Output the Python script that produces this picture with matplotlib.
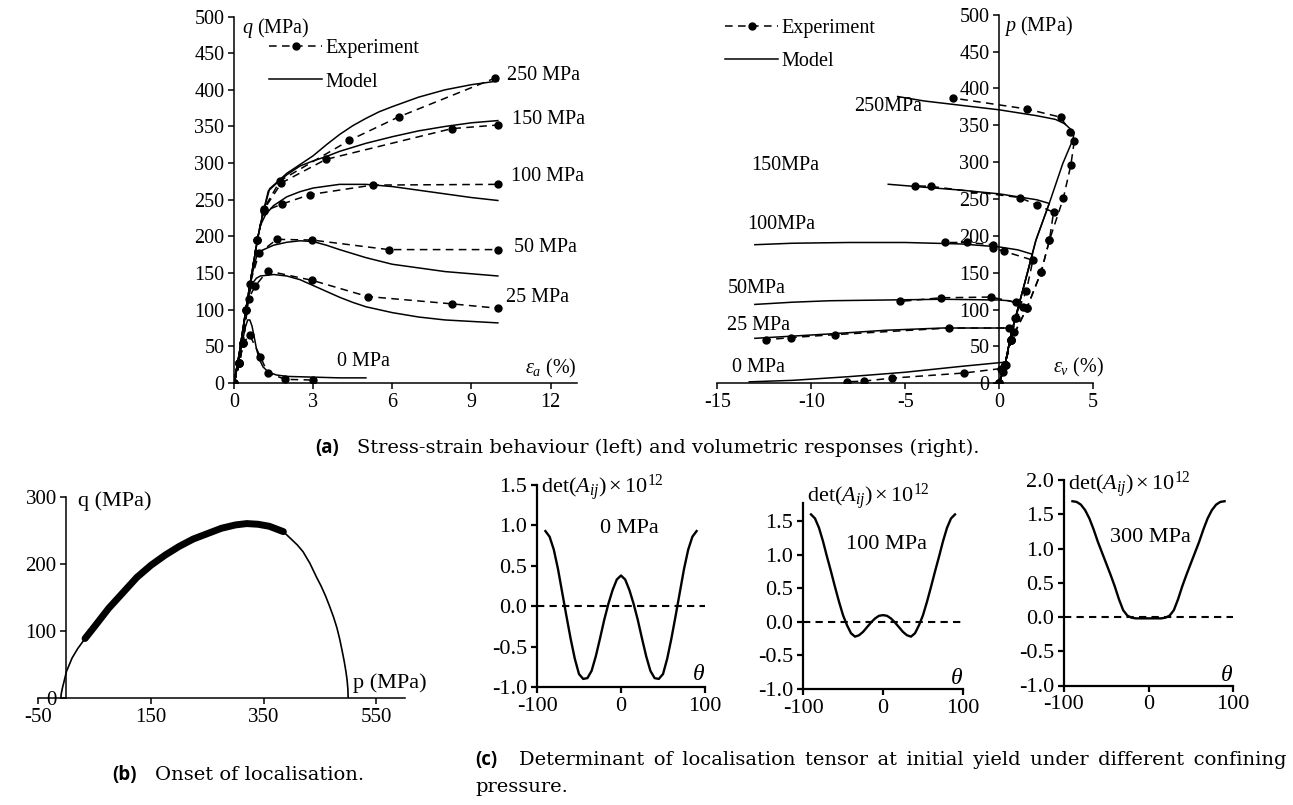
import matplotlib
matplotlib.use("Agg")
import matplotlib.pyplot as plt
from matplotlib.lines import Line2D

plt.rcParams['font.family'] = 'Liberation Serif'
plt.rcParams['mathtext.fontset'] = 'custom'
plt.rcParams['mathtext.rm'] = 'Liberation Serif'
plt.rcParams['mathtext.it'] = 'Liberation Serif:italic'
plt.rcParams['axes.unicode_minus'] = False

W, H = 1293, 805

# ---- (a) left: deviatoric stress vs axial strain ----
ea_exp = {
    '0': [0, 0.2, 0.35, 0.6, 1.0, 1.27, 1.94, 3.0],
    '25': [0, 0.2, 0.35, 0.55, 0.8, 1.27, 2.97, 5.06, 8.25, 10.0],
    '50': [0, 0.2, 0.35, 0.6, 0.95, 1.62, 2.97, 5.86, 10.0],
    '100': [0, 0.2, 0.45, 0.88, 1.12, 1.81, 2.87, 5.25, 10.0],
    '150': [0, 0.2, 0.45, 0.88, 1.12, 1.8, 3.48, 8.25, 10.0],
    '250': [0, 0.2, 0.45, 0.88, 1.12, 1.75, 4.37, 6.24, 9.9],
}
q_exp = {
    '0': [0, 27, 55, 65, 36, 14, 5, 4],
    '25': [0, 27, 55, 115, 132, 153, 140, 118, 108, 102],
    '50': [0, 27, 55, 135, 177, 196, 195, 182, 182],
    '100': [0, 27, 100, 195, 234, 244, 257, 270, 271],
    '150': [0, 27, 100, 195, 236, 273, 305, 347, 352],
    '250': [0, 27, 100, 195, 237, 276, 331, 363, 416],
}
ea_mod = {
    '0': [0, 0.15, 0.3, 0.42, 0.52, 0.6, 0.68, 0.76, 0.85, 0.95, 1.1, 1.3, 1.6, 2.0, 3.0, 4.0, 5.0],
    '25': [0, 0.2, 0.4, 0.55, 0.7, 0.85, 1.0, 1.5, 2.0, 2.5, 3.0, 3.5, 4.0, 4.5, 5.0, 6.0, 7.0, 8.0, 9.0, 10.0],
    '50': [0, 0.2, 0.45, 0.7, 0.85, 1.0, 1.5, 2.0, 2.5, 3.0, 3.5, 4.0, 5.0, 6.0, 7.0, 8.0, 9.0, 10.0],
    '100': [0, 0.2, 0.45, 0.7, 0.9, 1.0, 1.2, 1.5, 2.0, 2.5, 3.0, 4.0, 5.0, 6.0, 7.0, 8.0, 9.0, 10.0],
    '150': [0, 0.2, 0.45, 0.7, 0.9, 1.1, 1.3, 1.6, 2.0, 2.5, 3.0, 3.5, 4.0, 5.0, 6.0, 7.0, 8.0, 9.0, 10.0],
    '250': [0, 0.2, 0.45, 0.7, 0.9, 1.1, 1.35, 1.6, 2.0, 2.5, 3.0, 3.5, 4.0, 4.5, 5.0, 5.5, 6.0, 7.0, 8.0, 9.0, 10.0],
}
q_mod = {
    '0': [0, 25, 52, 75, 86, 86, 78, 64, 47, 33, 22, 15, 11, 9, 8, 7, 7],
    '25': [0, 40, 85, 118, 136, 143, 146, 148, 146, 141, 133, 125, 117, 110, 104, 96, 90, 86, 84, 82],
    '50': [0, 40, 100, 150, 172, 180, 188, 192, 194, 193, 188, 182, 171, 162, 157, 152, 149, 146],
    '100': [0, 40, 100, 155, 198, 215, 230, 242, 254, 261, 266, 271, 271, 268, 263, 258, 253, 249],
    '150': [0, 40, 100, 155, 198, 232, 262, 272, 284, 296, 303, 309, 316, 327, 336, 344, 350, 355, 358],
    '250': [0, 40, 100, 155, 198, 232, 265, 273, 286, 298, 310, 325, 339, 351, 361, 370, 377, 390, 400, 407, 412],
}
q_labels = ['250 MPa', '150 MPa', '100 MPa', '50 MPa', '25 MPa']
q_label_pos = [(10.35, 420), (10.55, 359), (10.5, 282), (10.6, 185), (10.3, 117)]

# ---- (a) right: mean stress vs volumetric strain ----
ev_exp = {
    '0': [0, 0.2, 0.35, 0.1, -1.85, -5.7, -7.2, -8.1],
    '25': [0, 0.3, 0.65, 0.8, 0.55, -2.65, -8.75, -11.1, -12.4],
    '50': [0, 0.3, 0.65, 0.88, 1.3, 0.88, -0.45, -3.1, -5.3],
    '100': [0, 0.3, 0.65, 0.83, 1.45, 1.8, 0.27, -0.3, -0.35, -1.7, -2.9],
    '150': [0, 0.3, 0.65, 1.48, 2.24, 2.68, 2.9, 2.0, 1.1, -3.6, -4.5],
    '250': [0, 0.3, 0.65, 1.48, 2.24, 2.68, 3.42, 3.82, 4.0, 3.8, 3.27, 1.5, -2.47],
}
p_exp = {
    '0': [0, 15, 25, 20, 14, 7, 3, 2],
    '25': [0, 25, 59, 70, 75, 75, 66, 62, 59],
    '50': [0, 25, 59, 88, 103, 110, 117, 116, 111],
    '100': [0, 25, 59, 88, 125, 167, 179, 184, 188, 191, 191],
    '150': [0, 25, 59, 102, 151, 194, 232, 242, 252, 267, 268],
    '250': [0, 25, 59, 102, 151, 194, 251, 296, 328, 341, 361, 372, 387],
}
ev_mod = {
    '0': [0, 0.3, 0.44, -2, -5, -8, -11, -13.3],
    '25': [0, 0.3, 0.65, 0.75, 0, -3, -6, -9, -11, -13],
    '50': [0, 0.3, 0.65, 1.1, 0.5, 0, -3, -6, -9, -11, -13],
    '100': [0, 0.3, 0.65, 1.27, 1.78, 1.0, 0, -2, -5, -8, -11, -13],
    '150': [0, 0.3, 0.65, 1.27, 1.96, 2.67, 2.0, 1.0, 0, -2, -4, -5.9],
    '250': [0, 0.3, 0.65, 1.27, 1.96, 2.67, 3.39, 3.92, 4.0, 3.5, 3.0, 2.0, 1.0, 0, -2, -4, -5.4],
}
p_mod = {
    '0': [0, 23, 29, 23, 15, 9, 4, 2],
    '25': [0, 23, 68, 75, 75, 75, 72, 67, 64, 61],
    '50': [0, 23, 68, 108, 112, 113, 114, 113, 112, 110, 107],
    '100': [0, 23, 68, 127, 175, 181, 185, 189, 191, 191, 190, 188],
    '150': [0, 23, 68, 127, 194, 244, 249, 253, 257, 262, 266, 270],
    '250': [0, 23, 68, 127, 194, 244, 298, 330, 340, 352, 358, 363, 367, 371, 377, 383, 389],
}
p_labels = ['250MPa', '150MPa', '100MPa', '50MPa', '25 MPa', '0 MPa']
p_label_pos = [(-5.9, 375), (-11.4, 296), (-11.6, 216), (-12.9, 129), (-12.8, 79), (-12.8, 21)]

# ---- (b) yield surface with localisation zone ----
p_yield = [-10, -9.5, -9, -7, -4, 0, 10, 20, 33, 50, 75, 100, 125, 150, 175, 200, 225, 250, 275,
           300, 320, 340, 360, 385, 400, 410, 420, 432, 444, 452, 460, 467, 474, 480, 485, 489,
           493, 496, 498, 499.5, 500]
q_yield = [0, 5, 8, 16, 26, 40, 60, 74, 89, 107, 134, 157, 180, 198, 213, 226, 237, 245, 253,
           258, 260, 259, 256, 248, 236, 228, 218, 201, 180, 167, 152, 137, 121, 105, 88, 72,
           55, 40, 28, 14, 0]
p_loc = (33, 385)

# ---- (c) determinant of localisation tensor ----
theta = list(range(-90, 91, 5))
det_0 = [0.93, 0.86, 0.70, 0.46, 0.17, -0.12, -0.40, -0.65, -0.84, -0.90, -0.89, -0.80, -0.62,
         -0.40, -0.17, 0.03, 0.20, 0.33, 0.38, 0.33, 0.20, 0.03, -0.17, -0.40, -0.62, -0.80,
         -0.89, -0.90, -0.84, -0.65, -0.40, -0.12, 0.17, 0.46, 0.70, 0.86, 0.93]
det_100 = [1.60, 1.54, 1.40, 1.20, 0.97, 0.75, 0.52, 0.30, 0.10, -0.05, -0.17, -0.22, -0.20,
           -0.15, -0.08, -0.01, 0.05, 0.09, 0.10, 0.09, 0.05, -0.01, -0.08, -0.15, -0.20, -0.22,
           -0.17, -0.05, 0.10, 0.30, 0.52, 0.75, 0.97, 1.20, 1.40, 1.54, 1.60]
det_300 = [1.69, 1.68, 1.64, 1.56, 1.44, 1.28, 1.10, 0.94, 0.78, 0.62, 0.45, 0.26, 0.10, 0.02,
           -0.01, -0.02, -0.02, -0.02, -0.02, -0.02, -0.02, -0.02, -0.01, 0.02, 0.10, 0.26,
           0.45, 0.62, 0.78, 0.94, 1.10, 1.28, 1.44, 1.56, 1.64, 1.68, 1.69]


def add_axes_px(fig, left, right, bottom, top):
    return fig.add_axes([left / W, 1 - bottom / H, (right - left) / W, (bottom - top) / H])


def style_axes(ax, fs, lw=1.1):
    for s in ['top', 'right']:
        ax.spines[s].set_visible(False)
    for s in ['left', 'bottom']:
        ax.spines[s].set_linewidth(lw)
    ax.tick_params(direction='out', length=4, width=lw, labelsize=fs, pad=3)
    ax.patch.set_alpha(0)


fig = plt.figure(figsize=(W / 100, H / 100), dpi=100)

dash = (0, (5, 3.5))

# left panel of (a)
ax1 = add_axes_px(fig, 234, 577, 383, 16.5)
for k in ea_mod:
    ax1.plot(ea_mod[k], q_mod[k], color='black', lw=1.1)
for k in ea_exp:
    ax1.plot(ea_exp[k], q_exp[k], color='black', lw=1.1, ls=dash, marker='o', ms=5)
ax1.set_xlim(0, 13)
ax1.set_ylim(0, 500)
ax1.set_xticks([0, 3, 6, 9, 12])
ax1.set_yticks(range(0, 501, 50))
style_axes(ax1, 14.5)
for lab, (x, y) in zip(q_labels, q_label_pos):
    ax1.text(x, y, lab, fontsize=14.5, va='center', ha='left')
ax1.text(4.9, 29, '0 MPa', fontsize=14.5, ha='center', va='center')
ax1.text(0.3, 484, '$q$ (MPa)', fontsize=14.5, ha='left', va='center')
ax1.text(13.0, 20, r'$\varepsilon_a$ (%)', fontsize=14.5, ha='right', va='center')

h_exp = Line2D([], [], color='black', lw=1.1, ls=dash, marker='o', ms=5)
h_mod = Line2D([], [], color='black', lw=1.1)
ax1.legend([h_exp, h_mod], ['Experiment', 'Model'], loc='upper left', bbox_to_anchor=(0.08, 0.96),
           frameon=False, fontsize=14.5, handlelength=2.6, handletextpad=0.2, labelspacing=0.7,
           numpoints=1, borderaxespad=0)

# right panel of (a)
ax2 = add_axes_px(fig, 717.3, 1093, 383.3, 14.7)
for k in ev_mod:
    ax2.plot(ev_mod[k], p_mod[k], color='black', lw=1.1)
for k in ev_exp:
    ax2.plot(ev_exp[k], p_exp[k], color='black', lw=1.1, ls=dash, marker='o', ms=5)
ax2.set_xlim(-15, 5)
ax2.set_ylim(0, 500)
ax2.set_xticks([-15, -10, -5, 0, 5])
ax2.set_yticks(range(0, 501, 50))
ax2.spines['left'].set_position(('data', 0))
style_axes(ax2, 14.5)
for lab, (x, y) in zip(p_labels, p_label_pos):
    ax2.text(x, y, lab, fontsize=14.5, ha='center', va='center')
ax2.text(0.25, 484, '$p$ (MPa)', fontsize=14.5, ha='left', va='center')
ax2.text(5.6, 22, r'$\varepsilon_v$ (%)', fontsize=14.5, ha='right', va='center')
ax2.legend([h_exp, h_mod], ['Experiment', 'Model'], loc='upper left', bbox_to_anchor=(0.0, 1.01),
           frameon=False, fontsize=14.5, handlelength=2.6, handletextpad=0.2, labelspacing=0.7,
           numpoints=1, borderaxespad=0)

# (b) onset of localisation
axb = add_axes_px(fig, 38.3, 404.5, 698.3, 496.7)
axb.plot(p_yield, q_yield, color='black', lw=1.2)
p_thick = [p for p in p_yield if p_loc[0] <= p <= p_loc[1]]
q_thick = [q for p, q in zip(p_yield, q_yield) if p_loc[0] <= p <= p_loc[1]]
axb.plot(p_thick, q_thick, color='black', lw=5, solid_capstyle='round', solid_joinstyle='round')
axb.set_xlim(-50, 600)
axb.set_ylim(0, 300)
axb.set_xticks([-50, 150, 350, 550])
axb.set_yticks([0, 100, 200, 300])
axb.spines['left'].set_position(('data', 0))
style_axes(axb, 15)
axb.text(20, 293, 'q (MPa)', fontsize=16, ha='left', va='center')
axb.text(509, 23, 'p (MPa)', fontsize=16, ha='left', va='center')

# (c) determinant panels
c_specs = [
    (537, 705, 687, 485, (-1.0, 1.5), det_0, '0 MPa', (10, 0.96), 1.47),
    (803, 963, 689, 503, (-1.0, 1.77), det_100, '100 MPa', (5, 1.15), 1.86),
    (1064, 1233, 685.5, 480, (-1.0, 2.0), det_300, '300 MPa', (2, 1.16), 1.93),
]
for left, right, bottom, top, ylim, det, lab, lpos, ydet in c_specs:
    axc = add_axes_px(fig, left, right, bottom, top)
    axc.plot(theta, det, color='black', lw=1.7, solid_joinstyle='round')
    axc.plot([-100, 100], [0, 0], color='black', lw=1.5, ls=(0, (3.5, 2.5)))
    axc.set_xlim(-100, 100)
    axc.set_ylim(*ylim)
    axc.set_xticks([-100, 0, 100])
    axc.set_yticks([-1.0, -0.5, 0.0, 0.5, 1.0, 1.5] + ([2.0] if ylim[1] >= 2 else []))
    axc.yaxis.set_major_formatter(matplotlib.ticker.FormatStrFormatter('%.1f'))
    style_axes(axc, 16, lw=1.6)
    axc.text(lpos[0], lpos[1], lab, fontsize=16, ha='center', va='center')
    axc.text(-95, ydet, r'$\mathrm{det}(A_{ij})\times10^{12}$', fontsize=16, ha='left', va='center')
    axc.text(100, -0.85, r'$\theta$', fontsize=17, ha='right', va='center')

# captions
cap_fs = 14
fig.text(315 / W, 1 - 448 / H, '(a)', fontsize=13.5, family='Open Sans', weight='bold', va='center')
fig.text(357 / W, 1 - 448 / H, 'Stress-strain behaviour (left) and volumetric responses (right).',
         fontsize=cap_fs, family='DejaVu Serif', va='center')
fig.text(112 / W, 1 - 775 / H, '(b)', fontsize=13.5, family='Open Sans', weight='bold', va='center')
fig.text(155 / W, 1 - 775 / H, 'Onset of localisation.', fontsize=cap_fs, family='DejaVu Serif', va='center')
fig.text(475 / W, 1 - 760 / H, '(c)', fontsize=13.5, family='Open Sans', weight='bold', va='center')
line_c = 'Determinant of localisation tensor at initial yield under different confining'
fig.text(519 / W, 1 - 760 / H, line_c.replace(' ', ' \u2006'),
         fontsize=cap_fs, family='DejaVu Serif', va='center')
fig.text(475 / W, 1 - 787 / H, 'pressure.', fontsize=cap_fs, family='DejaVu Serif', va='center')

fig.savefig('out.png', dpi=100)
